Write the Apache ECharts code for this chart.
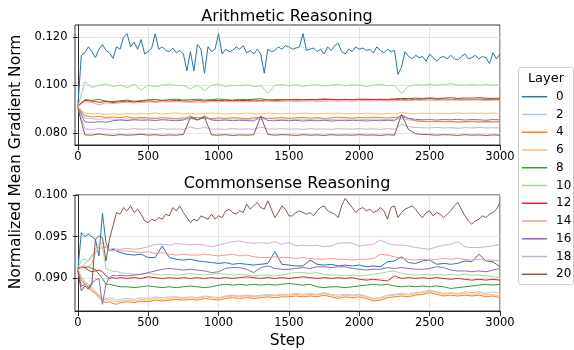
<!DOCTYPE html>
<html><head><meta charset="utf-8">
<script src="https://cdn.jsdelivr.net/npm/echarts@6/dist/echarts.min.js"></script>
<style>html,body{margin:0;padding:0;background:#fff}#c{width:574px;height:350px}</style>
</head><body><div id="c"></div>
<script>
const F = 'DejaVu Sans';
const layers = ['0','2','4','6','8','10','12','14','16','18','20'];
const colors = ['#1f77b4','#aec7e8','#ff7f0e','#ffbb78','#2ca02c','#98df8a','#d62728','#ff9896','#9467bd','#c5b0d5','#8c564b'];
const xTicks = [0,500,1000,1500,2000,2500,3000];
const yTicksTop = [0.080,0.100,0.120];
const yTicksBottom = [0.090,0.095,0.100];
const titles = ['Arithmetic Reasoning','Commonsense Reasoning'];

const steps25 = []; for (let s = 0; s <= 3000; s += 25) steps25.push(s);
const steps50 = []; for (let s = 0; s <= 3000; s += 50) steps50.push(s);
const stepsB = []; for (let s = 0; s <= 300; s += 25) stepsB.push(s); for (let s = 350; s <= 3000; s += 50) stepsB.push(s);

// ---- Arithmetic Reasoning ----
const arith0 = [ // steps25
0.0910,0.1125,0.1135,0.1160,0.1140,0.1115,0.1150,0.1170,0.1145,0.1135,
0.1112,0.1160,0.1150,0.1200,0.1215,0.1160,0.1180,0.1150,0.1190,0.1130,
0.1140,0.1155,0.1215,0.1150,0.1160,0.1145,0.1140,0.1155,0.1135,0.1145,
0.1130,0.1060,0.1140,0.1060,0.1170,0.1150,0.1050,0.1160,0.1140,0.1150,
0.1215,0.1130,0.1150,0.1140,0.1145,0.1160,0.1150,0.1165,0.1135,0.1145,
0.1130,0.1150,0.1130,0.1050,0.1150,0.1140,0.1145,0.1160,0.1150,0.1165,
0.1160,0.1150,0.1155,0.1160,0.1215,0.1145,0.1150,0.1155,0.1140,0.1150,
0.1130,0.1160,0.1145,0.1165,0.1175,0.1140,0.1130,0.1150,0.1140,0.1160,
0.1150,0.1155,0.1145,0.1150,0.1135,0.1160,0.1145,0.1135,0.1150,0.1140,
0.1145,0.1045,0.1075,0.1140,0.1120,0.1110,0.1125,0.1115,0.1120,0.1100,
0.1130,0.1115,0.1100,0.1115,0.1120,0.1110,0.1125,0.1110,0.1105,0.1120,
0.1130,0.1110,0.1115,0.1125,0.1110,0.1120,0.1115,0.1090,0.1135,0.1110,
0.1130];
const arith2 = [ // steps50
0.0910,0.0862,0.0860,0.0858,0.0861,0.0859,0.0857,0.0860,0.0858,0.0860,
0.0859,0.0861,0.0858,0.0860,0.0859,0.0857,0.0860,0.0858,0.0861,0.0859,
0.0860,0.0858,0.0860,0.0859,0.0857,0.0860,0.0858,0.0861,0.0859,0.0858,
0.0860,0.0858,0.0859,0.0857,0.0860,0.0858,0.0857,0.0859,0.0858,0.0860,
0.0858,0.0857,0.0859,0.0858,0.0856,0.0858,0.0860,0.0856,0.0852,0.0850,
0.0849,0.0848,0.0850,0.0847,0.0849,0.0846,0.0848,0.0847,0.0845,0.0847,
0.0846];
const arith4 = [
0.0910,0.0872,0.0868,0.0870,0.0866,0.0868,0.0865,0.0869,0.0863,0.0866,
0.0864,0.0862,0.0865,0.0863,0.0861,0.0864,0.0862,0.0866,0.0863,0.0861,
0.0864,0.0862,0.0865,0.0863,0.0861,0.0864,0.0866,0.0862,0.0863,0.0865,
0.0862,0.0864,0.0866,0.0863,0.0865,0.0862,0.0864,0.0867,0.0865,0.0863,
0.0866,0.0864,0.0867,0.0865,0.0863,0.0866,0.0868,0.0862,0.0852,0.0849,
0.0848,0.0850,0.0847,0.0849,0.0846,0.0848,0.0850,0.0847,0.0849,0.0848,
0.0849];
const arith6 = [
0.0910,0.0884,0.0880,0.0882,0.0878,0.0881,0.0879,0.0883,0.0880,0.0882,
0.0881,0.0884,0.0880,0.0882,0.0885,0.0881,0.0883,0.0880,0.0882,0.0884,
0.0882,0.0880,0.0883,0.0881,0.0884,0.0882,0.0880,0.0884,0.0882,0.0881,
0.0883,0.0881,0.0884,0.0882,0.0880,0.0883,0.0881,0.0884,0.0882,0.0883,
0.0881,0.0884,0.0882,0.0880,0.0883,0.0881,0.0886,0.0883,0.0881,0.0884,
0.0882,0.0884,0.0881,0.0883,0.0885,0.0882,0.0884,0.0883,0.0881,0.0884,
0.0883];
const arith8 = [
0.0910,0.0940,0.0937,0.0941,0.0934,0.0932,0.0935,0.0938,0.0933,0.0936,
0.0939,0.0941,0.0937,0.0940,0.0942,0.0938,0.0940,0.0942,0.0938,0.0940,
0.0943,0.0940,0.0938,0.0941,0.0940,0.0942,0.0944,0.0938,0.0940,0.0941,
0.0939,0.0942,0.0940,0.0938,0.0941,0.0943,0.0940,0.0939,0.0941,0.0940,
0.0942,0.0939,0.0941,0.0940,0.0938,0.0941,0.0939,0.0943,0.0940,0.0942,
0.0944,0.0941,0.0943,0.0940,0.0942,0.0941,0.0939,0.0942,0.0940,0.0941,
0.0940];
const arith10 = [
0.0910,0.1015,0.0990,0.1000,0.1005,0.0995,0.1000,0.0990,0.1005,0.0980,
0.1000,0.0995,0.1000,0.1005,0.0998,0.1000,0.0985,0.1000,0.0978,0.1000,
0.1005,0.0995,0.1000,0.0998,0.1002,0.0995,0.0998,0.0966,0.1000,0.1003,
0.0998,0.1002,0.0995,0.1000,0.1003,0.0996,0.1000,0.1004,0.0998,0.1002,
0.1000,0.0995,0.1000,0.1004,0.0998,0.1000,0.0966,0.0995,0.1003,0.1000,
0.1004,0.1000,0.1003,0.1007,0.1001,0.1000,0.1004,0.1000,0.1003,0.1000,
0.1002];
const arith12 = [
0.0915,0.0937,0.0934,0.0929,0.0932,0.0928,0.0931,0.0934,0.0930,0.0933,
0.0935,0.0933,0.0936,0.0934,0.0937,0.0935,0.0933,0.0936,0.0934,0.0937,
0.0936,0.0938,0.0935,0.0937,0.0936,0.0938,0.0937,0.0939,0.0937,0.0938,
0.0940,0.0938,0.0939,0.0941,0.0939,0.0940,0.0942,0.0940,0.0941,0.0939,
0.0941,0.0942,0.0940,0.0942,0.0941,0.0943,0.0945,0.0944,0.0946,0.0945,
0.0947,0.0945,0.0946,0.0948,0.0945,0.0947,0.0946,0.0948,0.0946,0.0945,
0.0946];
const arith14 = [
0.0912,0.0932,0.0928,0.0918,0.0927,0.0924,0.0927,0.0929,0.0926,0.0928,
0.0930,0.0929,0.0931,0.0930,0.0932,0.0930,0.0929,0.0931,0.0929,0.0932,
0.0931,0.0933,0.0931,0.0932,0.0931,0.0933,0.0932,0.0934,0.0932,0.0933,
0.0934,0.0933,0.0934,0.0935,0.0933,0.0934,0.0935,0.0934,0.0935,0.0934,
0.0935,0.0936,0.0935,0.0936,0.0935,0.0936,0.0937,0.0936,0.0938,0.0937,
0.0938,0.0937,0.0938,0.0939,0.0937,0.0938,0.0939,0.0938,0.0937,0.0938,
0.0938];
const arith16 = [
0.0910,0.0847,0.0845,0.0848,0.0846,0.0852,0.0855,0.0853,0.0856,0.0854,
0.0855,0.0853,0.0856,0.0854,0.0852,0.0855,0.0872,0.0856,0.0872,0.0855,
0.0853,0.0855,0.0852,0.0854,0.0853,0.0851,0.0870,0.0853,0.0852,0.0854,
0.0852,0.0854,0.0851,0.0853,0.0852,0.0854,0.0851,0.0853,0.0852,0.0854,
0.0853,0.0851,0.0853,0.0852,0.0854,0.0852,0.0876,0.0862,0.0858,0.0856,
0.0857,0.0855,0.0857,0.0856,0.0858,0.0855,0.0857,0.0856,0.0854,0.0857,
0.0856];
const arith18 = [
0.0910,0.0818,0.0816,0.0819,0.0817,0.0815,0.0818,0.0816,0.0819,0.0817,
0.0818,0.0816,0.0819,0.0817,0.0818,0.0816,0.0826,0.0818,0.0825,0.0817,
0.0818,0.0816,0.0819,0.0817,0.0818,0.0816,0.0826,0.0818,0.0817,0.0819,
0.0817,0.0818,0.0816,0.0819,0.0817,0.0818,0.0816,0.0819,0.0818,0.0817,
0.0819,0.0817,0.0818,0.0816,0.0819,0.0817,0.0838,0.0828,0.0824,0.0823,
0.0822,0.0824,0.0822,0.0823,0.0821,0.0823,0.0822,0.0824,0.0822,0.0823,
0.0822];
const arith20 = [
0.0905,0.0793,0.0792,0.0797,0.0793,0.0791,0.0794,0.0792,0.0793,0.0796,
0.0792,0.0794,0.0791,0.0793,0.0792,0.0795,0.0866,0.0855,0.0868,0.0793,
0.0792,0.0794,0.0791,0.0793,0.0792,0.0794,0.0870,0.0795,0.0792,0.0794,
0.0793,0.0791,0.0794,0.0792,0.0793,0.0791,0.0794,0.0792,0.0793,0.0792,
0.0794,0.0792,0.0793,0.0791,0.0794,0.0792,0.0878,0.0815,0.0798,0.0795,
0.0794,0.0792,0.0794,0.0793,0.0791,0.0794,0.0792,0.0793,0.0791,0.0793,
0.0792];

// ---- Commonsense Reasoning ----
const common0 = [ // stepsB
0.0910,0.0955,0.0950,0.0953,0.0950,0.0947,0.0927,0.0978,0.0943,0.0933,0.0935,0.0933,0.0931,
0.0929,0.0928,0.0929,0.0925,0.0925,0.0939,0.0925,0.0923,0.0922,0.0923,
0.0921,0.0920,0.0919,0.0918,0.0919,0.0917,0.0918,0.0917,0.0916,0.0917,
0.0918,0.0932,0.0917,0.0916,0.0915,0.0915,0.0922,0.0917,0.0916,0.0917,
0.0915,0.0916,0.0915,0.0916,0.0914,0.0915,0.0914,0.0920,0.0921,0.0926,
0.0919,0.0918,0.0921,0.0922,0.0917,0.0918,0.0917,0.0918,0.0921,0.0920,
0.0929,0.0921,0.0920,0.0914];
const common2 = [
0.0911,0.0902,0.0896,0.0893,0.0889,0.0885,0.0880,0.0877,0.0876,0.0877,0.0876,0.0874,0.0875,
0.0876,0.0875,0.0877,0.0876,0.0878,0.0877,0.0878,0.0878,0.0877,0.0878,
0.0877,0.0879,0.0878,0.0877,0.0879,0.0880,0.0879,0.0880,0.0879,0.0880,
0.0881,0.0880,0.0881,0.0881,0.0882,0.0881,0.0882,0.0881,0.0883,0.0881,
0.0880,0.0881,0.0880,0.0881,0.0879,0.0876,0.0877,0.0880,0.0881,0.0882,
0.0881,0.0883,0.0884,0.0886,0.0884,0.0882,0.0883,0.0882,0.0884,0.0883,
0.0884,0.0882,0.0884,0.0882];
const common4 = [
0.0911,0.0898,0.0893,0.0890,0.0885,0.0882,0.0877,0.0873,0.0871,0.0872,0.0870,0.0869,0.0871,
0.0872,0.0871,0.0873,0.0872,0.0874,0.0873,0.0874,0.0875,0.0874,0.0875,
0.0874,0.0876,0.0875,0.0874,0.0876,0.0877,0.0876,0.0877,0.0876,0.0877,
0.0878,0.0877,0.0878,0.0878,0.0879,0.0878,0.0879,0.0878,0.0880,0.0878,
0.0876,0.0878,0.0877,0.0878,0.0876,0.0873,0.0874,0.0877,0.0878,0.0879,
0.0878,0.0880,0.0881,0.0883,0.0881,0.0879,0.0880,0.0879,0.0880,0.0879,
0.0880,0.0878,0.0879,0.0877];
const common6 = [
0.0911,0.0900,0.0895,0.0892,0.0887,0.0884,0.0879,0.0875,0.0874,0.0875,0.0873,0.0872,0.0873,
0.0874,0.0873,0.0875,0.0874,0.0876,0.0875,0.0876,0.0877,0.0876,0.0877,
0.0876,0.0878,0.0877,0.0876,0.0878,0.0879,0.0878,0.0879,0.0878,0.0879,
0.0880,0.0879,0.0880,0.0880,0.0881,0.0880,0.0881,0.0880,0.0882,0.0880,
0.0878,0.0880,0.0879,0.0880,0.0878,0.0875,0.0876,0.0879,0.0880,0.0881,
0.0880,0.0882,0.0883,0.0885,0.0883,0.0881,0.0882,0.0881,0.0882,0.0881,
0.0882,0.0880,0.0881,0.0879];
const common8 = [
0.0912,0.0914,0.0913,0.0914,0.0912,0.0911,0.0905,0.0900,0.0893,0.0893,0.0892,0.0891,0.0890,
0.0890,0.0889,0.0890,0.0891,0.0890,0.0889,0.0890,0.0889,0.0890,0.0891,
0.0890,0.0889,0.0890,0.0892,0.0893,0.0892,0.0893,0.0892,0.0893,0.0892,
0.0893,0.0892,0.0893,0.0894,0.0893,0.0892,0.0893,0.0890,0.0889,0.0890,
0.0890,0.0889,0.0890,0.0891,0.0892,0.0893,0.0892,0.0893,0.0891,0.0890,
0.0891,0.0890,0.0891,0.0890,0.0891,0.0890,0.0888,0.0889,0.0890,0.0891,
0.0892,0.0893,0.0892,0.0893];
const common10 = [
0.0912,0.0922,0.0923,0.0921,0.0925,0.0935,0.0941,0.0938,0.0912,0.0910,0.0908,0.0909,0.0907,
0.0906,0.0905,0.0905,0.0906,0.0905,0.0904,0.0905,0.0904,0.0905,0.0906,
0.0905,0.0904,0.0905,0.0906,0.0905,0.0904,0.0905,0.0904,0.0903,0.0904,
0.0904,0.0903,0.0904,0.0906,0.0907,0.0907,0.0906,0.0907,0.0905,0.0904,
0.0904,0.0903,0.0904,0.0903,0.0904,0.0905,0.0906,0.0908,0.0909,0.0906,
0.0905,0.0904,0.0905,0.0904,0.0905,0.0904,0.0905,0.0904,0.0905,0.0904,
0.0904,0.0903,0.0902,0.0901];
const common12 = [
0.0912,0.0913,0.0913,0.0910,0.0908,0.0909,0.0910,0.0908,0.0903,0.0900,0.0901,0.0900,0.0901,
0.0900,0.0901,0.0900,0.0902,0.0901,0.0900,0.0901,0.0900,0.0901,0.0900,
0.0901,0.0900,0.0901,0.0900,0.0901,0.0900,0.0901,0.0902,0.0901,0.0900,
0.0901,0.0900,0.0901,0.0900,0.0901,0.0902,0.0901,0.0900,0.0901,0.0900,
0.0901,0.0900,0.0901,0.0899,0.0898,0.0899,0.0898,0.0897,0.0903,0.0900,
0.0901,0.0900,0.0901,0.0900,0.0901,0.0900,0.0899,0.0900,0.0899,0.0898,
0.0899,0.0898,0.0899,0.0898];
const common14 = [
0.0910,0.0913,0.0915,0.0914,0.0918,0.0930,0.0938,0.0943,0.0938,0.0934,0.0933,0.0934,0.0933,
0.0933,0.0932,0.0931,0.0932,0.0930,0.0931,0.0929,0.0928,0.0929,0.0928,
0.0928,0.0929,0.0928,0.0927,0.0928,0.0929,0.0927,0.0928,0.0926,0.0925,
0.0925,0.0926,0.0925,0.0925,0.0924,0.0925,0.0924,0.0923,0.0923,0.0924,
0.0923,0.0923,0.0922,0.0923,0.0923,0.0924,0.0929,0.0928,0.0926,0.0924,
0.0923,0.0922,0.0923,0.0922,0.0923,0.0924,0.0923,0.0924,0.0923,0.0922,
0.0923,0.0922,0.0922,0.0921];
const common16 = [
0.0910,0.0891,0.0893,0.0889,0.0895,0.0898,0.0900,0.0869,0.0893,0.0901,0.0904,0.0903,0.0904,
0.0903,0.0904,0.0905,0.0907,0.0909,0.0911,0.0912,0.0911,0.0910,0.0911,
0.0910,0.0909,0.0907,0.0908,0.0912,0.0913,0.0913,0.0911,0.0907,0.0913,
0.0915,0.0912,0.0911,0.0911,0.0912,0.0913,0.0912,0.0914,0.0914,0.0913,
0.0914,0.0914,0.0912,0.0911,0.0910,0.0911,0.0911,0.0913,0.0912,0.0913,
0.0912,0.0911,0.0911,0.0912,0.0914,0.0913,0.0910,0.0909,0.0909,0.0908,
0.0909,0.0908,0.0910,0.0912];
const common18 = [
0.0910,0.0914,0.0918,0.0922,0.0928,0.0932,0.0935,0.0937,0.0937,0.0935,0.0936,0.0935,0.0935,
0.0936,0.0935,0.0936,0.0938,0.0941,0.0941,0.0940,0.0942,0.0941,0.0940,
0.0941,0.0940,0.0938,0.0940,0.0942,0.0944,0.0945,0.0943,0.0942,0.0943,
0.0942,0.0944,0.0941,0.0943,0.0939,0.0940,0.0939,0.0940,0.0938,0.0939,
0.0942,0.0943,0.0942,0.0939,0.0940,0.0941,0.0946,0.0942,0.0940,0.0940,
0.0939,0.0937,0.0936,0.0935,0.0938,0.0940,0.0941,0.0944,0.0938,0.0937,
0.0937,0.0938,0.0939,0.0941];
const common20 = [ // steps25
0.0909,0.0885,0.0891,0.0887,0.0893,0.0947,0.0951,0.0949,0.0921,0.0947,
0.0963,0.0979,0.0977,0.0985,0.0981,0.0987,0.0979,0.0983,0.0977,0.0969,
0.0967,0.0971,0.0969,0.0973,0.0971,0.0977,0.0975,0.0985,0.0981,0.0987,
0.0979,0.0973,0.0967,0.0971,0.0969,0.0975,0.0973,0.0971,0.0977,0.0971,
0.0975,0.0973,0.0981,0.0983,0.0979,0.0977,0.0981,0.0979,0.0989,0.0983,
0.0987,0.0991,0.0985,0.0983,0.0993,0.0983,0.0973,0.0979,0.0987,0.0983,
0.0975,0.0975,0.0979,0.0981,0.0979,0.0977,0.0979,0.0975,0.0981,0.0985,
0.0987,0.0981,0.0979,0.0977,0.0973,0.0987,0.0996,0.0990,0.0985,0.0979,
0.0983,0.0985,0.0981,0.0983,0.0979,0.0981,0.0985,0.0981,0.0971,0.0985,
0.0987,0.0973,0.0979,0.0983,0.0985,0.0987,0.0983,0.0977,0.0973,0.0979,
0.0981,0.0975,0.0979,0.0977,0.0973,0.0977,0.0981,0.0987,0.0991,0.0983,
0.0975,0.0969,0.0965,0.0969,0.0971,0.0975,0.0973,0.0977,0.0979,0.0983,
0.0991];

const arithSets = [[arith0,steps25],[arith2,steps50],[arith4,steps50],[arith6,steps50],[arith8,steps50],[arith10,steps50],[arith12,steps50],[arith14,steps50],[arith16,steps50],[arith18,steps50],[arith20,steps50]];
const commonSets = [[common0,stepsB],[common2,stepsB],[common4,stepsB],[common6,stepsB],[common8,stepsB],[common10,stepsB],[common12,stepsB],[common14,stepsB],[common16,stepsB],[common18,stepsB],[common20,steps25]];

function pairs(ys, xs) { return ys.map((y, i) => [xs[i], y]); }

const series = [];
arithSets.forEach((p, i) => series.push({type:'line', name:layers[i], xAxisIndex:0, yAxisIndex:0, data:pairs(p[0], p[1]), showSymbol:false, symbol:'none', lineStyle:{width:1, color:colors[i]}, itemStyle:{color:colors[i]}, animation:false}));
commonSets.forEach((p, i) => series.push({type:'line', name:layers[i], xAxisIndex:1, yAxisIndex:1, data:pairs(p[0], p[1]), showSymbol:false, symbol:'none', lineStyle:{width:1, color:colors[i]}, itemStyle:{color:colors[i]}, animation:false}));

const tickFont = {color:'#000', fontSize:11.5, fontFamily:F};
function xAxisCfg(g, name) {
  return {type:'value', gridIndex:g, min:-20, max:3000,
    axisLine:{show:true, onZero:false, lineStyle:{color:'#000', width:0.8}},
    axisTick:{show:true, length:5, customValues:xTicks, lineStyle:{color:'#000', width:0.8}},
    axisLabel:Object.assign({customValues:xTicks, margin:6.5, formatter:v => String(v)}, tickFont),
    splitLine:{show:true, lineStyle:{color:'#dddddd', width:0.8}},
    name:name, nameLocation:'middle', nameGap:22,
    nameTextStyle:{color:'#000', fontSize:15.5, fontFamily:F}};
}
function yAxisCfg(g, min, max, ticks) {
  return {type:'value', gridIndex:g, min:min, max:max,
    axisLine:{show:true, lineStyle:{color:'#000', width:0.8}},
    axisTick:{show:true, length:5, customValues:ticks, lineStyle:{color:'#000', width:0.8}},
    axisLabel:Object.assign({customValues:ticks, margin:7.5, formatter:v => v.toFixed(3)}, tickFont),
    splitLine:{show:true, lineStyle:{color:'#dddddd', width:0.8}}};
}

const chart = echarts.init(document.getElementById('c'), null, {renderer:'canvas'});
chart.setOption({
  animation:false,
  backgroundColor:'#fff',
  title:[
    {text:titles[0], left:'center', top:4, textStyle:{fontSize:16, fontWeight:'normal', color:'#000', fontFamily:F}},
    {text:titles[1], left:'center', top:171, textStyle:{fontSize:16, fontWeight:'normal', color:'#000', fontFamily:F}}
  ],
  grid:[
    {left:75, top:25, width:425, height:120, show:true, borderColor:'#000', borderWidth:0.8, containLabel:false},
    {left:75, top:195, width:425, height:117, show:true, borderColor:'#000', borderWidth:0.8, containLabel:false}
  ],
  xAxis:[xAxisCfg(0, ''), xAxisCfg(1, 'Step')],
  yAxis:[yAxisCfg(0, 0.0751, 0.1251, yTicksTop), yAxisCfg(1, 0.0861, 0.1000, yTicksBottom)],
  legend:{
    data:layers, orient:'vertical', left:522, top:89.7, padding:0,
    icon:'rect', itemWidth:25, itemHeight:1.5, itemGap:3.76, selectedMode:false,
    textStyle:{color:'#000', fontSize:12, fontFamily:F, lineHeight:14, padding:[0,0,0,4]}
  },
  graphic:[
    {type:'rect', left:518, top:67, shape:{width:55, height:217, r:3}, style:{fill:'rgba(255,255,255,0.8)', stroke:'#cccccc', lineWidth:1}, z:-1},
    {type:'text', x:546, y:78.5, style:{text:'Layer', fontSize:13, fontFamily:F, fill:'#000', align:'center', verticalAlign:'middle'}},
    {type:'text', x:16, y:162, rotation:Math.PI/2, style:{text:'Normalized Mean Gradient Norm', fontSize:15.5, fontFamily:F, fill:'#000', align:'center', verticalAlign:'middle'}}
  ],
  series:series
});
</script>
</body></html>
